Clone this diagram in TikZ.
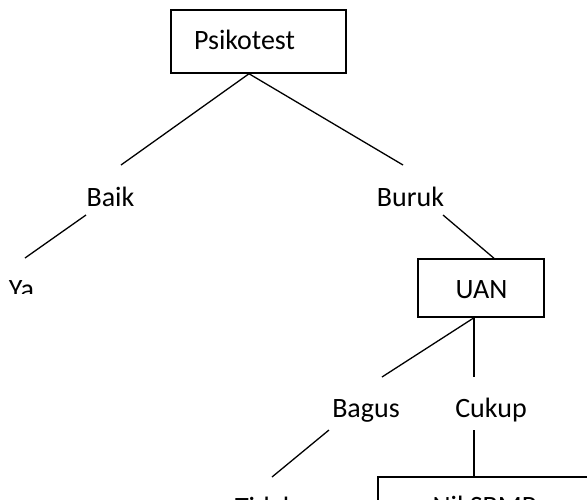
\documentclass[tikz,border=0pt]{standalone}
\usepackage{fontspec}
\setmainfont{Carlito}
\begin{document}
\begin{tikzpicture}[x=1pt,y=-1pt,
  lbl/.style={inner sep=0pt, anchor=base, font=\fontsize{28}{34}\selectfont},
  boxnode/.style={draw=black, line width=1.5pt, inner sep=0pt, font=\fontsize{28}{34}\selectfont},
  conn/.style={draw=black, line width=1.3pt}]
\useasboundingbox (0,0) rectangle (587,499);
\clip (0,0) rectangle (587,499);
% boxes
\node[boxnode, minimum width=175pt, minimum height=63pt] (psi) at (258.5,41.5) {};
\node[lbl] (psit) at (244.5,49) {Psikotest};
\node[boxnode, minimum width=126pt, minimum height=58pt] (uan) at (481,288) {};
\node[lbl] (uant) at (481.5,298) {UAN};
\node[boxnode, minimum width=222pt, minimum height=63pt] (nil) at (489,508.5) {};
\node[lbl] (nilt) at (484.5,515) {Nil SBMP};
% labels
\node[lbl] (baik) at (110.5,206) {Baik};
\node[lbl] (buruk) at (410.5,206) {Buruk};
\node[lbl] (bagus) at (366,417) {Bagus};
\node[lbl] (cukup) at (491,417) {Cukup};
\node[lbl] (tidak) at (265.5,516) {Tidak};
\begin{scope}
  \clip (0,270) rectangle (60,293);
  \node[lbl] (ya) at (21.5,298) {Ya};
\end{scope}
% connectors
\draw[conn] ([shift={(-9.5,0)}]psi.south) -- ([shift={(10.5,-41)}]baik.base);
\draw[conn] ([shift={(-9.5,0)}]psi.south) -- ([shift={(-7.5,-41)}]buruk.base);
\draw[conn] ([shift={(-24.5,9)}]baik.base) -- ([shift={(3.5,-40)}]ya.base);
\draw[conn] ([shift={(32.5,9)}]buruk.base) -- ([shift={(13,0)}]uan.north);
\draw[conn] ([shift={(-7,0)}]uan.south) -- ([shift={(16,-40)}]bagus.base);
\draw[conn] ([shift={(-7,0)}]uan.south) -- ([shift={(-17,-40)}]cukup.base);
\draw[conn] ([shift={(-37,13)}]bagus.base) -- ([shift={(6.5,-39)}]tidak.base);
\draw[conn] ([shift={(-17,13)}]cukup.base) -- ([shift={(-15,0)}]nil.north);
\end{tikzpicture}
\end{document}
